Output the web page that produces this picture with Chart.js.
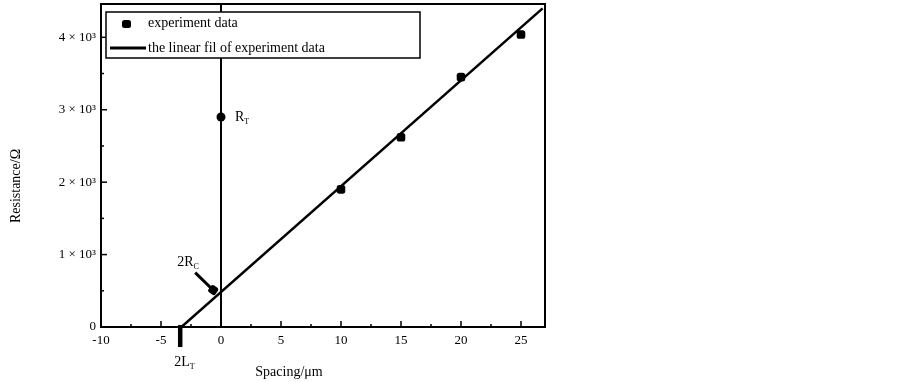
<!DOCTYPE html>
<html>
<head>
<meta charset="utf-8">
<script src="https://cdn.jsdelivr.net/npm/chart.js@4"></script>
<style>
  html, body { margin: 0; padding: 0; background: #fff; }
  #wrap { width: 903px; height: 382px; }
</style>
</head>
<body>
<div id="wrap"><canvas id="chart" width="903" height="382"></canvas></div>
<script>
// spacing (um) vs resistance (ohm)
const expX = [10, 15, 20, 25];
const expY = [1900, 2620, 3450, 4040];

const fitX = [-3.3, 26.8];
const fitY = [0, 4400];

const zeroX = [0, 0];
const zeroY = [0, 4460];

// marked points: R_T, 2R_C, 2L_T
const markNames = [['R', 'T'], ['2R', 'C'], ['2L', 'T']];
const markX = [0, -0.65, -3.4];
const markY = [2900, 510, -125];

const arrowX = [-2.15, -0.6];
const arrowY = [750, 500];

const xTicks = [-10, -5, 0, 5, 10, 15, 20, 25];
const yTicks = [0, 1000, 2000, 3000, 4000];

const FONT = '"Liberation Serif", "Times New Roman", serif';

const toPts = (xs, ys) => xs.map((x, i) => ({ x: x, y: ys[i] }));

const frame = {
    id: 'frame',
    afterDatasetsDraw(chart) {
        const ctx = chart.ctx;
        const a = chart.chartArea;
        const xs = chart.scales.x, ys = chart.scales.y;
        ctx.save();
        ctx.strokeStyle = '#000';
        ctx.lineWidth = 2;
        ctx.strokeRect(a.left, a.top, a.right - a.left, a.bottom - a.top);

        // inward ticks
        ctx.lineWidth = 1.5;
        for (let v = -10; v <= 27; v += 2.5) {
            const px = xs.getPixelForValue(v);
            const len = v % 5 === 0 ? 6 : 3;
            ctx.beginPath();
            ctx.moveTo(px, a.bottom);
            ctx.lineTo(px, a.bottom - len);
            ctx.stroke();
        }
        for (let v = 0; v <= 4400; v += 500) {
            const py = ys.getPixelForValue(v);
            const len = v % 1000 === 0 ? 6 : 3;
            ctx.beginPath();
            ctx.moveTo(a.left, py);
            ctx.lineTo(a.left + len, py);
            ctx.stroke();
        }

        // legend
        const lx = 106, ly = 12, lw = 314, lh = 46;
        ctx.fillStyle = '#fff';
        ctx.fillRect(lx, ly, lw, lh);
        ctx.lineWidth = 1.5;
        ctx.strokeRect(lx, ly, lw, lh);
        ctx.fillStyle = '#000';
        ctx.beginPath();
        ctx.roundRect(122, 20, 9, 8, 2.5);
        ctx.fill();
        ctx.lineWidth = 3;
        ctx.beginPath();
        ctx.moveTo(110, 48);
        ctx.lineTo(146, 48);
        ctx.stroke();
        ctx.font = '14px ' + FONT;
        ctx.textBaseline = 'middle';
        ctx.textAlign = 'left';
        ctx.fillText(chart.data.datasets[0].label, 148, 23);
        ctx.fillText(chart.data.datasets[1].label, 148, 48);

        // point names with subscripts
        const offs = [[14, 0], [-36, -28], [-6, 0]];
        markNames.forEach((nm, i) => {
            let px = xs.getPixelForValue(markX[i]) + offs[i][0];
            let py = i === 2 ? a.bottom + 35 : ys.getPixelForValue(markY[i]) + offs[i][1];
            ctx.font = '14px ' + FONT;
            ctx.fillText(nm[0], px, py);
            const w = ctx.measureText(nm[0]).width;
            ctx.font = '8px ' + FONT;
            ctx.fillText(nm[1], px + w, py + 5);
        });

        // axis titles
        ctx.font = '14px ' + FONT;
        ctx.textAlign = 'center';
        ctx.fillText('Spacing/μm', 289, 372);
        ctx.translate(16, 186);
        ctx.rotate(-Math.PI / 2);
        ctx.fillText('Resistance/Ω', 0, 0);
        ctx.restore();
    }
};

new Chart(document.getElementById('chart'), {
    type: 'scatter',
    data: {
        datasets: [{
            label: 'experiment data',
            data: toPts(expX, expY),
            pointStyle: 'rectRounded',
            pointRadius: 5,
            backgroundColor: '#000',
            borderColor: '#000',
            borderWidth: 0
        }, {
            label: 'the linear fil of experiment data',
            data: toPts(fitX, fitY),
            showLine: true,
            borderColor: '#000',
            borderWidth: 2.5,
            pointRadius: 0
        }, {
            label: 'x = 0',
            data: toPts(zeroX, zeroY),
            showLine: true,
            borderColor: '#000',
            borderWidth: 2,
            pointRadius: 0
        }, {
            label: 'arrow',
            data: toPts(arrowX, arrowY),
            showLine: true,
            borderColor: '#000',
            borderWidth: 3,
            pointRadius: 0
        }, {
            label: 'marks',
            data: toPts(markX, markY),
            clip: false,
            pointStyle: ['circle', 'rectRounded', 'line'],
            pointRotation: [0, 35, 90],
            pointRadius: [4.5, 5, 11],
            backgroundColor: '#000',
            borderColor: '#000',
            borderWidth: [0, 0, 4.5]
        }]
    },
    options: {
        responsive: false,
        animation: false,
        layout: { autoPadding: false, padding: { top: 4, right: 358, left: 0, bottom: 0 } },
        plugins: {
            legend: { display: false },
            tooltip: { enabled: false }
        },
        scales: {
            x: {
                type: 'linear',
                min: -10,
                max: 27,
                afterFit: (s) => { s.height = 55; s.paddingLeft = 0; s.paddingRight = 0; },
                afterBuildTicks: (s) => { s.ticks = xTicks.map(v => ({ value: v })); },
                grid: { display: false, drawTicks: false },
                border: { display: false },
                ticks: {
                    padding: 6,
                    color: '#000',
                    font: { family: FONT, size: 13 },
                    maxRotation: 0
                }
            },
            y: {
                type: 'linear',
                min: 0,
                max: 4460,
                afterFit: (s) => { s.width = 101; s.paddingTop = 0; s.paddingBottom = 0; },
                afterBuildTicks: (s) => { s.ticks = yTicks.map(v => ({ value: v })); },
                grid: { display: false, drawTicks: false },
                border: { display: false },
                ticks: {
                    padding: 5,
                    color: '#000',
                    font: { family: FONT, size: 13 },
                    callback: (v) => v === 0 ? '0' : (v / 1000) + ' × 10³'
                }
            }
        }
    },
    plugins: [frame]
});
</script>
</body>
</html>
